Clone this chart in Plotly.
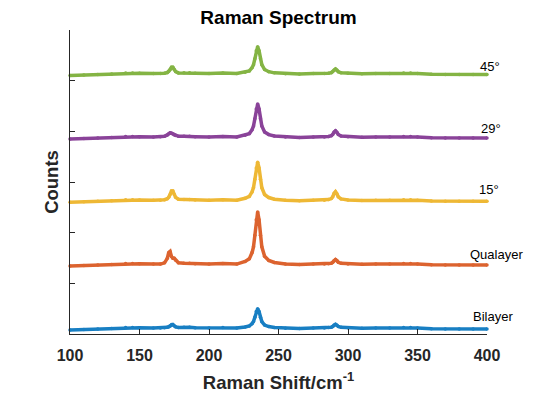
import plotly.graph_objects as go

# Raman shift (cm^-1) sample positions
shift = [100, 110, 120, 130, 140, 145, 150, 160, 165, 168, 170, 171, 172, 173, 174, 175, 176, 178,
         182, 186, 190, 200, 210, 220, 226, 229, 231, 232, 233, 234, 235, 236, 237, 238, 240, 243,
         247, 255, 265, 275, 283, 286, 288, 289, 290, 291, 292, 293, 295, 300, 310, 320, 330, 340,
         345, 350, 360, 370, 380, 390, 400]

bilayer = [0.08, 0.09, 0.10, 0.11, 0.13, 0.13, 0.125, 0.12, 0.12, 0.124, 0.131, 0.141, 0.162, 0.187,
           0.187, 0.162, 0.141, 0.127, 0.132, 0.135, 0.125, 0.12, 0.13, 0.12, 0.139, 0.158, 0.204,
           0.245, 0.329, 0.443, 0.50, 0.443, 0.329, 0.245, 0.177, 0.147, 0.128, 0.115, 0.11, 0.12,
           0.12, 0.126, 0.134, 0.148, 0.176, 0.19, 0.173, 0.148, 0.131, 0.123, 0.115, 0.12, 0.12,
           0.13, 0.13, 0.12, 0.105, 0.10, 0.10, 0.10, 0.10]

qualayer = [1.34, 1.35, 1.36, 1.37, 1.39, 1.39, 1.385, 1.38, 1.38, 1.405, 1.493, 1.605, 1.63, 1.53,
            1.493, 1.493, 1.455, 1.405, 1.398, 1.395, 1.385, 1.38, 1.39, 1.38, 1.432, 1.483, 1.607,
            1.72, 1.947, 2.256, 2.41, 2.256, 1.947, 1.72, 1.535, 1.452, 1.411, 1.382, 1.37, 1.38,
            1.38, 1.387, 1.398, 1.416, 1.452, 1.47, 1.448, 1.416, 1.394, 1.384, 1.375, 1.38, 1.38,
            1.39, 1.39, 1.38, 1.365, 1.36, 1.36, 1.36, 1.36]

deg15 = [2.60, 2.61, 2.62, 2.63, 2.65, 2.65, 2.645, 2.64, 2.642, 2.65, 2.669, 2.697, 2.754, 2.82,
         2.82, 2.754, 2.697, 2.659, 2.656, 2.655, 2.645, 2.64, 2.65, 2.64, 2.678, 2.715, 2.805,
         2.888, 3.053, 3.278, 3.39, 3.278, 3.053, 2.888, 2.753, 2.693, 2.661, 2.639, 2.63, 2.64,
         2.64, 2.654, 2.674, 2.708, 2.776, 2.81, 2.768, 2.708, 2.666, 2.647, 2.635, 2.64, 2.64,
         2.65, 2.65, 2.64, 2.625, 2.62, 2.62, 2.62, 2.62]

deg29 = [3.85, 3.86, 3.87, 3.88, 3.90, 3.90, 3.895, 3.89, 3.894, 3.902, 3.93, 3.954, 3.97, 3.962,
         3.946, 3.93, 3.918, 3.902, 3.904, 3.905, 3.895, 3.89, 3.90, 3.89, 3.923, 3.955, 4.033,
         4.105, 4.248, 4.443, 4.54, 4.443, 4.248, 4.105, 3.988, 3.936, 3.908, 3.888, 3.88, 3.89,
         3.89, 3.90, 3.914, 3.938, 3.986, 4.01, 3.98, 3.938, 3.908, 3.895, 3.885, 3.89, 3.89, 3.90,
         3.90, 3.89, 3.875, 3.87, 3.87, 3.87, 3.87]

deg45 = [5.10, 5.11, 5.12, 5.13, 5.15, 5.15, 5.145, 5.14, 5.141, 5.147, 5.16, 5.179, 5.218, 5.264,
         5.264, 5.218, 5.179, 5.153, 5.154, 5.155, 5.145, 5.14, 5.15, 5.14, 5.167, 5.193, 5.257,
         5.315, 5.432, 5.591, 5.67, 5.591, 5.432, 5.315, 5.22, 5.177, 5.154, 5.136, 5.13, 5.14,
         5.14, 5.147, 5.158, 5.176, 5.212, 5.23, 5.208, 5.176, 5.154, 5.144, 5.135, 5.14, 5.14,
         5.15, 5.15, 5.14, 5.125, 5.12, 5.12, 5.12, 5.12]

series_names = ["Bilayer", "Qualayer", "15°", "29°", "45°"]
series_values = [bilayer, qualayer, deg15, deg29, deg45]
series_colors = ["#0072BD", "#D95319", "#EDB120", "#7E2F8E", "#77AC30"]

# label anchor positions (data coords)
label_x = [388.7, 386.2, 392.7, 393.9, 393.4]
label_y = [0.34, 1.57, 2.85, 4.06, 5.27]

x_ticks = [100, 150, 200, 250, 300, 350, 400]
y_ticks = [0, 1, 2, 3, 4, 5, 6]

fig = go.Figure()
for name, vals, col in zip(series_names, series_values, series_colors):
    fig.add_trace(go.Scatter(
        x=shift, y=vals, mode="lines+markers", name=name,
        line=dict(color=col, width=3.5),
        marker=dict(color=col, size=3.5),
        opacity=0.9, showlegend=False, cliponaxis=False,
    ))

for name, lx, ly in zip(series_names, label_x, label_y):
    fig.add_annotation(x=lx, y=ly, text=name, showarrow=False, xanchor="left", yanchor="middle",
                       font=dict(family="Liberation Sans, Arial", size=13, color="#000000"))

axis_color = "#262626"
fig.update_layout(
    width=538, height=395,
    margin=dict(l=70, r=51, t=30, b=61),
    paper_bgcolor="white", plot_bgcolor="white",
    font=dict(family="Liberation Sans, Arial", color=axis_color),
    title=dict(text="<b>Raman Spectrum</b>", x=278.5 / 538, xanchor="center",
               yref="container", y=1 - 17.5 / 395, yanchor="middle",
               font=dict(size=19, color="#000000")),
    xaxis=dict(range=[100, 400], tickvals=x_ticks, ticktext=[f"<b>{v}</b>" for v in x_ticks],
               ticks="inside", ticklen=5, tickcolor=axis_color, tickwidth=1,
               showline=True, linecolor=axis_color, linewidth=1, showgrid=False, zeroline=False,
               tickfont=dict(size=16, color=axis_color), ticklabelstandoff=7, automargin=False,
               title=dict(text="<b>Raman Shift/cm<sup>-1</sup></b>", font=dict(size=18.5, color=axis_color),
                          standoff=12)),
    yaxis=dict(range=[0, 6], tickvals=y_ticks, showticklabels=False, automargin=False,
               ticks="inside", ticklen=5, tickcolor=axis_color, tickwidth=1,
               showline=True, linecolor=axis_color, linewidth=1, showgrid=False, zeroline=False,
               title=dict(text="<b>Counts</b>", font=dict(size=18.5, color=axis_color), standoff=5)),
)

fig.write_html("out.html", config={"displayModeBar": False},
               post_script="document.body.style.margin='0';")
